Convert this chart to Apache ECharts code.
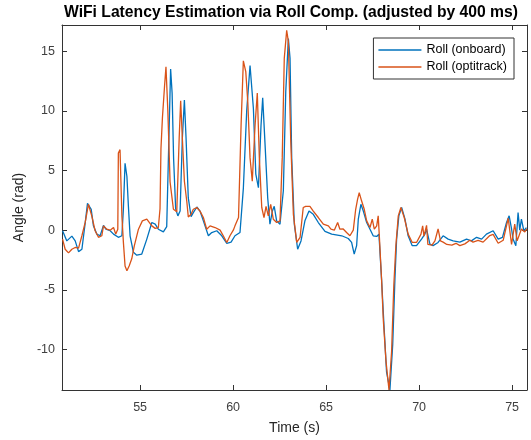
<!DOCTYPE html>
<html>
<head>
<meta charset="utf-8">
<script src="https://cdn.jsdelivr.net/npm/echarts@6/dist/echarts.min.js"></script>
<style>html,body{margin:0;padding:0;background:#fff;}#chart{width:531px;height:440px;}</style>
</head>
<body>
<div id="chart"></div>
<script>
const titleText = 'WiFi Latency Estimation via Roll Comp. (adjusted by 400 ms)';
const seriesNames = ['Roll (onboard)', 'Roll (optitrack)'];
const xTicks = [55, 60, 65, 70, 75];
const yTicks = [-10, -5, 0, 5, 10, 15];

const onboardTime = [50.83,51.06,51.33,51.51,51.69,51.87,52.05,52.17,52.37,52.49,52.67,52.85,53.03,53.16,53.39,53.57,53.83,54.02,54.10,54.19,54.29,54.37,54.46,54.64,54.82,55.09,55.36,55.63,55.81,55.98,56.25,56.43,56.52,56.64,56.72,56.80,56.91,57.03,57.15,57.27,57.38,57.47,57.59,57.74,57.86,58.05,58.22,58.40,58.67,58.85,59.12,59.39,59.66,59.89,60.10,60.37,60.55,60.73,60.91,61.09,61.22,61.36,61.50,61.59,61.71,61.86,61.98,62.11,62.21,62.34,62.52,62.70,62.83,62.97,63.06,63.15,63.29,63.47,63.65,63.86,64.08,64.31,64.58,64.94,65.30,65.84,66.19,66.37,66.51,66.64,66.73,66.87,67.00,67.18,67.36,67.53,67.72,67.84,67.98,68.12,68.25,68.43,68.58,68.70,68.79,68.91,69.06,69.24,69.41,69.63,69.86,70.13,70.31,70.40,70.58,70.75,71.02,71.29,71.56,71.83,72.19,72.55,72.81,73.09,73.36,73.62,73.98,74.25,74.48,74.70,74.84,74.97,75.05,75.20,75.32,75.41,75.50,75.63,75.77];
const onboardRoll = [-0.05,-0.9,-0.5,-0.9,-1.8,-1.6,0.64,2.25,1.75,0.36,-0.33,-0.47,0.4,0.08,-0.05,-0.33,-0.6,-0.47,1.75,5.6,4.5,2.0,-0.47,-1.86,-2.1,-2.0,-0.75,0.64,0.5,0.08,-0.14,0.3,6.0,13.5,11.5,6.0,1.8,1.2,1.6,7.7,10.9,7.7,2.7,1.14,1.47,1.94,1.6,0.78,-0.47,-0.2,-0.05,-0.47,-1.1,-1.0,-0.47,-0.2,3.5,10.0,13.8,10.2,4.7,3.56,8.8,11.1,7.4,2.7,0.5,1.6,2.0,0.78,0.5,3.3,11.6,16.06,14.4,6.06,0.5,-1.6,-0.9,0.78,1.6,1.33,0.64,-0.1,-0.33,-0.47,-0.7,-1.03,-2.0,-1.3,0.92,2.17,1.6,0.64,0.08,-0.47,-0.53,-0.33,-4.1,-8.25,-11.9,-13.4,-9.6,-4.1,-0.75,1.2,1.9,0.92,-0.47,-1.3,-1.3,-0.75,-0.33,0.08,-1.17,-1.3,-1.03,-0.47,-0.75,-0.9,-1.0,-0.75,-0.9,-0.6,-0.75,-0.33,-0.05,-0.75,-0.6,0.64,1.2,0.1,-0.75,-1.3,1.47,0.0,0.92,-0.05,0.22];

const optitrackTime = [50.83,50.97,51.15,51.33,51.51,51.69,51.87,52.05,52.22,52.40,52.58,52.76,52.94,53.03,53.21,53.39,53.57,53.69,53.80,53.83,53.92,53.96,54.02,54.10,54.19,54.29,54.41,54.55,54.69,54.91,55.12,55.36,55.63,55.81,55.98,56.07,56.12,56.20,56.31,56.39,56.49,56.61,56.79,56.97,57.10,57.18,57.27,57.38,57.51,57.59,57.74,57.86,58.05,58.22,58.40,58.58,58.76,59.03,59.30,59.47,59.66,59.83,60.01,60.10,60.19,60.29,60.43,60.55,60.68,60.79,60.91,61.03,61.18,61.30,61.41,61.54,61.66,61.77,61.89,62.02,62.16,62.34,62.52,62.64,62.75,62.88,62.97,63.10,63.24,63.42,63.60,63.77,63.90,64.13,64.31,64.58,64.85,65.12,65.26,65.44,65.62,65.74,65.92,66.10,66.28,66.46,66.59,66.69,66.78,66.91,67.05,67.18,67.36,67.48,67.59,67.72,67.80,67.86,67.98,68.07,68.22,68.38,68.52,68.64,68.75,68.88,69.02,69.20,69.41,69.63,69.86,70.10,70.19,70.26,70.40,70.47,70.69,70.85,71.02,71.15,71.29,71.49,71.76,71.98,72.19,72.46,72.73,72.90,73.17,73.44,73.80,73.98,74.25,74.52,74.79,74.97,75.14,75.27,75.50,75.68,75.79];
const optitrackRoll = [-0.75,-1.6,-1.9,-1.6,-1.45,-1.5,-0.47,0.67,2.17,1.2,-0.05,-0.6,-0.47,0.36,0.08,0.0,0.22,-0.33,0.08,6.47,6.75,4.5,1.2,-1.0,-3.0,-3.4,-3.0,-2.4,-1.3,0.08,0.78,0.92,0.36,0.15,0.22,1.8,6.8,9.45,12.0,13.7,10.0,4.05,1.75,1.55,7.7,10.85,7.7,4.1,2.4,1.1,1.33,1.75,1.9,1.6,1.06,0.08,0.36,0.22,0.0,-0.47,-1.03,-0.47,0.0,0.36,0.5,1.06,8.9,14.2,13.3,10.7,6.06,4.1,8.8,11.5,6.06,1.9,1.06,2.0,1.2,2.17,0.92,0.64,0.78,6.06,14.4,16.75,15.8,7.4,1.33,-1.03,-0.6,1.9,2.0,2.0,1.6,1.06,0.5,0.36,0.08,0.0,0.64,0.08,0.1,-0.2,-0.47,0.0,1.75,2.58,3.14,2.44,1.75,0.78,0.22,0.92,0.08,0.36,1.2,-0.47,-4.1,-7.4,-11.0,-13.4,-10.2,-4.6,-1.3,1.2,1.9,1.06,-0.33,-1.03,-1.03,-0.33,0.36,-0.5,0.4,-1.2,-1.25,-0.9,0.1,-0.9,-1.0,-1.2,-1.25,-1.1,-1.3,-1.15,-0.85,-1.0,-0.85,-1.0,-0.45,-0.35,-1.1,-0.85,1.0,-1.2,0.5,-0.9,0.1,-0.15,0.1];

const pairs = (t, v) => t.map((x, i) => [x, v[i]]);
const axisColor = '#333333';
const labelColor = '#404040';
const fontFamily = 'Liberation Sans, Arial, sans-serif';

const chart = echarts.init(document.getElementById('chart'), null, {renderer: 'canvas'});
const xBase = {
  type: 'value', min: 50.8, max: 75.8,
  splitLine: {show: false},
  axisLine: {show: true, onZero: false, lineStyle: {color: axisColor, width: 1}},
  axisTick: {show: true, inside: true, length: 5, customValues: xTicks, lineStyle: {color: axisColor}},
};
const yBase = {
  type: 'value', min: -13.4, max: 17.2,
  splitLine: {show: false},
  axisLine: {show: true, onZero: false, lineStyle: {color: axisColor, width: 1}},
  axisTick: {show: true, inside: true, length: 5, customValues: yTicks, lineStyle: {color: axisColor}},
};
chart.setOption({
  animation: false,
  backgroundColor: '#ffffff',
  textStyle: {fontFamily: fontFamily},
  grid: {left: 62, right: 4, top: 25, bottom: 48, containLabel: false},
  graphic: [{
    type: 'text', x: 291, y: 5,
    style: {text: titleText, font: 'bold 15.7px ' + fontFamily, fill: '#000000', align: 'center', verticalAlign: 'top'}
  }],
  legend: {
    orient: 'vertical', right: 17, top: 38,
    data: seriesNames, icon: 'rect',
    backgroundColor: '#ffffff', borderColor: axisColor, borderWidth: 1,
    padding: [5, 7, 5, 5], itemGap: 3, itemWidth: 43, itemHeight: 1.5,
    textStyle: {fontSize: 12.5, color: '#000000', fontFamily: fontFamily, lineHeight: 14}
  },
  xAxis: [
    Object.assign({}, xBase, {
      position: 'bottom', name: 'Time (s)', nameLocation: 'middle', nameGap: 31,
      nameTextStyle: {fontSize: 14, color: '#262626', fontFamily: fontFamily},
      axisLabel: {show: true, customValues: xTicks, margin: 11, fontSize: 12.5, color: labelColor, fontFamily: fontFamily}
    }),
    Object.assign({}, xBase, {position: 'top', axisLabel: {show: false}})
  ],
  yAxis: [
    Object.assign({}, yBase, {
      position: 'left', name: 'Angle (rad)', nameLocation: 'middle', nameGap: 26, nameRotate: 90,
      nameTextStyle: {fontSize: 14, color: '#262626', fontFamily: fontFamily},
      axisLabel: {show: true, customValues: yTicks, margin: 7, fontSize: 12.5, color: labelColor, fontFamily: fontFamily}
    }),
    Object.assign({}, yBase, {position: 'right', axisLabel: {show: false}})
  ],
  series: [
    {name: seriesNames[0], type: 'line', xAxisIndex: 0, yAxisIndex: 0, symbol: 'none',
     lineStyle: {color: '#0072BD', width: 1.3}, itemStyle: {color: '#0072BD'},
     data: pairs(onboardTime, onboardRoll)},
    {name: seriesNames[1], type: 'line', xAxisIndex: 0, yAxisIndex: 0, symbol: 'none',
     lineStyle: {color: '#D95319', width: 1.3}, itemStyle: {color: '#D95319'},
     data: pairs(optitrackTime, optitrackRoll)}
  ]
});
</script>
</body>
</html>
